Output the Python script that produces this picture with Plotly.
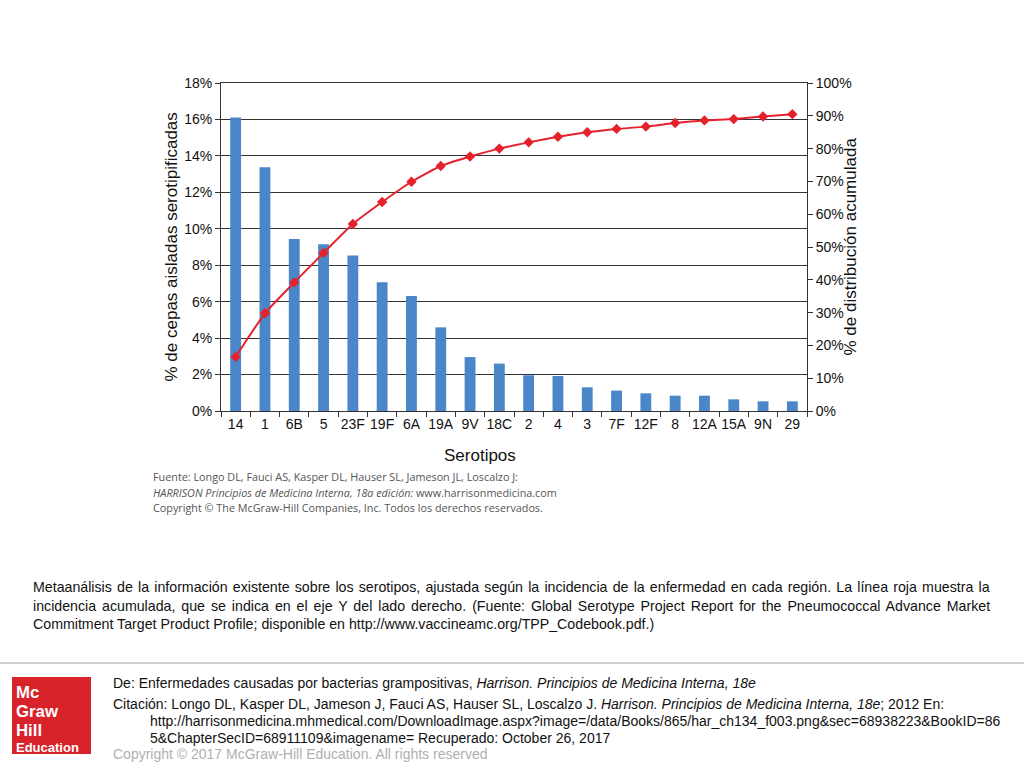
import plotly.graph_objects as go

serotipos = ["14", "1", "6B", "5", "23F", "19F", "6A", "19A", "9V", "18C",
             "2", "4", "3", "7F", "12F", "8", "12A", "15A", "9N", "29"]
pct_cepas = [16.1, 13.37, 9.44, 9.15, 8.54, 7.06, 6.31, 4.59, 2.96, 2.6,
             1.96, 1.92, 1.3, 1.12, 0.97, 0.84, 0.84, 0.64, 0.53, 0.53]
pct_acum = [16.5, 29.8, 39.2, 48.2, 57.0, 63.7, 69.9, 74.7, 77.6, 80.0,
            81.9, 83.6, 85.0, 86.0, 86.7, 87.8, 88.6, 89.0, 89.8, 90.5]
left_ticks = list(range(0, 19, 2))
right_ticks = list(range(0, 101, 10))

W, H = 1024, 768
def px(x):
    return x / W
def py(y):
    return 1 - y / H

FONT = "Liberation Sans, Arial, Helvetica, sans-serif"
BAR_COLOR = "#4a86c8"
LINE_COLOR = "#e5222b"

fig = go.Figure()
fig.add_trace(go.Bar(x=serotipos, y=pct_cepas, marker_color=BAR_COLOR,
                     marker_line_width=0, width=0.37, yaxis="y",
                     showlegend=False))
fig.add_trace(go.Scatter(x=serotipos, y=pct_acum, yaxis="y2", mode="lines+markers",
                         line=dict(color=LINE_COLOR, width=2, shape="spline", smoothing=0.5),
                         marker=dict(symbol="diamond", size=8, color=LINE_COLOR),
                         showlegend=False))

x0, x1 = px(221), px(807)
y0, y1 = py(411), py(83)

fig.update_layout(
    width=W, height=H, autosize=False,
    margin=dict(l=0, r=0, t=0, b=0, pad=0),
    paper_bgcolor="white", plot_bgcolor="white",
    font=dict(family=FONT, color="#111"),
    xaxis=dict(domain=[x0, x1], type="category", range=[-0.5, len(serotipos) - 0.5],
               showline=True, mirror=True, linecolor="#333",
               linewidth=1, ticks="outside", tickson="boundaries", ticklen=5,
               tickcolor="#333", tickfont=dict(size=14, color="#111"), tickangle=0,
               showgrid=False, automargin=False),
    yaxis=dict(domain=[y0, y1], range=[0, 18], tickvals=left_ticks,
               ticktext=[f"{v}%" for v in left_ticks], showline=True, linecolor="#333",
               linewidth=1, ticks="outside", ticklen=5, tickcolor="#333",
               tickfont=dict(size=14, color="#111"), showgrid=True,
               gridcolor="#333", gridwidth=1, zeroline=False, automargin=False),
    yaxis2=dict(overlaying="y", side="right", range=[0, 100], tickvals=right_ticks,
                ticktext=[f"{v}%" for v in right_ticks], showline=True,
                linecolor="#333", linewidth=1, ticks="outside", ticklen=5,
                tickcolor="#333", tickfont=dict(size=14, color="#111"),
                showgrid=False, zeroline=False, automargin=False),
)

ann = []
# axis titles
ann.append(dict(x=px(160), y=py(247), text="% de cepas aisladas serotipificadas",
                textangle=-90, font=dict(size=17, color="#111")))
ann.append(dict(x=px(862), y=py(247), text="% de distribución acumulada",
                textangle=-90, font=dict(size=17, color="#111")))
ann.append(dict(x=px(480), y=py(455), text="Serotipos", font=dict(size=17, color="#111")))

# source text
src_font = dict(size=10.8, color="#555", family="Open Sans, DejaVu Sans, sans-serif")
src_lines = [
    (476, "Fuente: Longo DL, Fauci AS, Kasper DL, Hauser SL, Jameson JL, Loscalzo J:"),
    (492, "<i>HARRISON Principios de Medicina Interna, 18a edición:</i> www.harrisonmedicina.com"),
    (507, "Copyright © The McGraw-Hill Companies, Inc. Todos los derechos reservados."),
]
for yy, t in src_lines:
    ann.append(dict(x=px(151), y=py(yy), text=t, xanchor="left", font=src_font))

# caption (first two lines justified via word spacing)
cap_font = dict(size=14.2, color="#111")
cap_lines = [
    (587, 1.25, "Metaanálisis de la información existente sobre los serotipos, ajustada según la incidencia de la enfermedad en cada región. La línea roja muestra la"),
    (606, 2.0, "incidencia acumulada, que se indica en el eje Y del lado derecho. (Fuente: Global Serotype Project Report for the Pneumococcal Advance Market"),
    (624, 0, "Commitment Target Product Profile; disponible en http://www.vaccineamc.org/TPP_Codebook.pdf.)"),
]
for yy, ws, t in cap_lines:
    txt = f"<span style='word-spacing:{ws}px'>{t}</span>" if ws else t
    ann.append(dict(x=px(31), y=py(yy), text=txt, xanchor="left", font=cap_font))

# footer text
ft_font = dict(size=14, color="#111")
ft_lines = [
    (111, 683, "De: Enfermedades causadas por bacterias grampositivas, <i>Harrison. Principios de Medicina Interna, 18e</i>"),
    (111, 704, "Citación: Longo DL, Kasper DL, Jameson J, Fauci AS, Hauser SL, Loscalzo J. <i>Harrison. Principios de Medicina Interna, 18e</i>; 2012 En:"),
    (148, 721, "http://harrisonmedicina.mhmedical.com/DownloadImage.aspx?image=/data/Books/865/har_ch134_f003.png&amp;sec=68938223&amp;BookID=86"),
    (148, 738, "5&amp;ChapterSecID=68911109&amp;imagename= Recuperado: October 26, 2017"),
]
for xx, yy, t in ft_lines:
    ann.append(dict(x=px(xx), y=py(yy), text=t, xanchor="left", font=ft_font))
ann.append(dict(x=px(111), y=py(754), text="Copyright © 2017 McGraw-Hill Education. All rights reserved",
                xanchor="left", font=dict(size=14, color="#b0b0b0")))

# logo text
logo_font = dict(size=16.8, color="white", family="Liberation Sans, Arial, sans-serif")
for yy, t in [(692.5, "<b>Mc</b>"), (711.5, "<b>Graw</b>"), (730.5, "<b>Hill</b>")]:
    ann.append(dict(x=px(14), y=py(yy), text=t, xanchor="left", font=logo_font))
ann.append(dict(x=px(14), y=py(747.8), text="<b>Education</b>", xanchor="left",
                font=dict(size=13, color="white", family="Liberation Sans, Arial, sans-serif")))

for a in ann:
    a.setdefault("xref", "paper")
    a.setdefault("yref", "paper")
    a.setdefault("showarrow", False)
    a.setdefault("yanchor", "middle")
fig.update_layout(annotations=ann)

fig.update_layout(shapes=[
    dict(type="line", xref="paper", yref="paper", x0=0, x1=1, y0=py(663), y1=py(663),
         line=dict(color="#cfcfcf", width=2)),
    dict(type="rect", xref="paper", yref="paper", x0=px(12), x1=px(91), y0=py(754), y1=py(677),
         fillcolor="#d9232b", line=dict(width=0), layer="below"),
])

fig.write_html("out.html", config={"displayModeBar": False},
               post_script="document.body.style.margin='0px';document.body.style.overflow='hidden';")
